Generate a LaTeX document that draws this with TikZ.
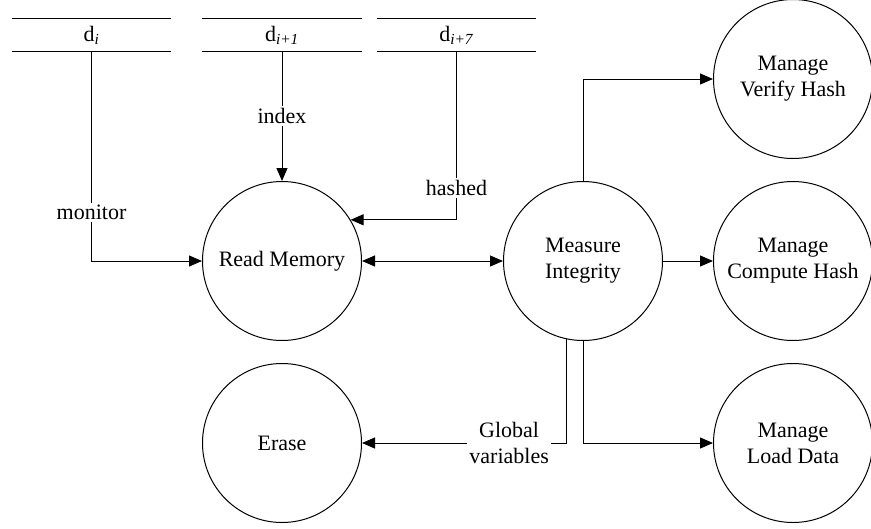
\documentclass[tikz,border=0pt]{standalone}
\usepackage{fontspec}
\setmainfont{Liberation Serif}
\usetikzlibrary{arrows.meta}
\begin{document}
\begin{tikzpicture}[x=1pt,y=-1pt,
  every node/.style={font=\fontsize{22}{26}\selectfont},
  proc/.style={draw,circle,line width=1pt,minimum size=159pt,inner sep=0pt,align=center},
  store/.style={minimum width=159pt,minimum height=32pt,inner sep=0pt},
  conn/.style={line width=1pt},
  arr/.style={conn,-{Triangle[length=13pt,width=11pt]}},
  barr/.style={conn,{Triangle[length=13pt,width=11pt]}-{Triangle[length=13pt,width=11pt]}},
  lbl/.style={fill=white,inner sep=2pt,align=center}]
\useasboundingbox (0,0) rectangle (871,528);
% data stores
\node[store] (s1) at (91.5,35) {d\textsubscript{\textit{i}}};
\node[store] (s2) at (282,35) {d\textsubscript{\textit{i+1}}};
\node[store] (s3) at (456.5,35) {d\textsubscript{\textit{i+7}}};
\foreach \s in {s1,s2,s3}{
  \draw[conn] (\s.north west) -- (\s.north east);
  \draw[conn] (\s.south west) -- (\s.south east);
}
% processes
\node[proc] (rm) at (282,261) {Read Memory};
\node[proc] (mi) at (583,261) {Measure\\Integrity};
\node[proc] (er) at (282,443) {Erase};
\node[proc] (vh) at (793,79) {Manage\\Verify Hash};
\node[proc] (ch) at (793,261) {Manage\\Compute Hash};
\node[proc] (ld) at (793,443) {Manage\\Load Data};
% connectors
\draw[arr] (s1.south) |- node[lbl,pos=0.385] {monitor} (rm.west);
\draw[arr] (s2.south) -- node[lbl] {index} (rm.north);
\draw[arr] (s3.south) |- node[lbl,pos=0.405] {hashed} (rm.31);
\draw[barr] (rm.east) -- (mi.west);
\draw[arr] (mi.north) |- (vh.west);
\draw[arr] (mi.east) -- (ch.west);
\draw[arr] (mi.258) |- node[lbl,pos=0.64] {Global\\variables} (er.east);
\draw[arr] (mi.south) |- (ld.west);
\end{tikzpicture}
\end{document}
